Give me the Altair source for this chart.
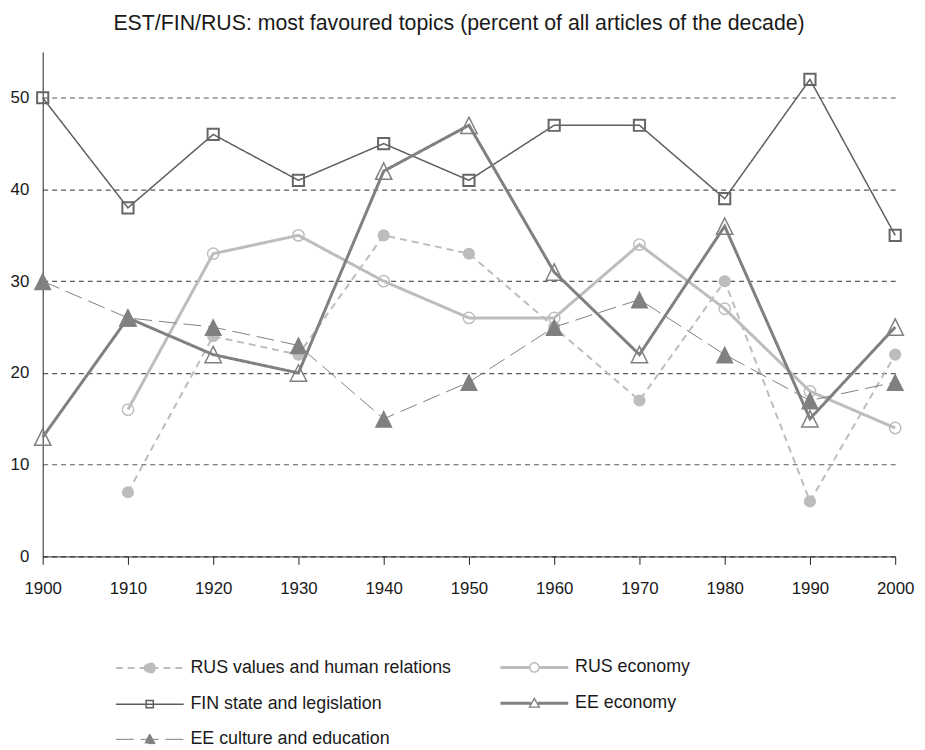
import altair as alt
import pandas as pd

years = [1900, 1910, 1920, 1930, 1940, 1950, 1960, 1970, 1980, 1990, 2000]
series_names = [
    "RUS values and human relations",
    "RUS economy",
    "FIN state and legislation",
    "EE economy",
    "EE culture and education",
]
rus_values = [None, 7, 24, 22, 35, 33, 25, 17, 30, 6, 22]
rus_economy = [None, 16, 33, 35, 30, 26, 26, 34, 27, 18, 14]
fin_state = [50, 38, 46, 41, 45, 41, 47, 47, 39, 52, 35]
ee_economy = [13, 26, 22, 20, 42, 47, 31, 22, 36, 15, 25]
ee_culture = [30, 26, 25, 23, 15, 19, 25, 28, 22, 17, 19]

all_values = [rus_values, rus_economy, fin_state, ee_economy, ee_culture]
rows = []
for name, vals in zip(series_names, all_values):
    for yr, v in zip(years, vals):
        if v is not None:
            rows.append({"year": yr, "value": v, "series": name})
df = pd.DataFrame(rows)

# styles
tri = "M0,-1L1,1L-1,1Z"
line_color = ["#bdbdbd", "#bdbdbd", "#5e5e5e", "#808080", "#808080"]
line_width = [2, 3, 1.5, 3, 1]
line_dash = [[7, 5], [1, 0], [1, 0], [1, 0], [18, 7]]
mk_shape = ["circle", "circle", "square", tri, tri]
mk_size = [150, 130, 128, 272, 324]
mk_filled = [True, False, False, False, True]
mk_color = ["#bdbdbd", "#bdbdbd", "#666666", "#808080", "#808080"]
mk_stroke = [0, 1.5, 2, 1.5, 0]

# legend symbols: line + marker as custom paths (unit = half symbol box = 18px)
legend_paths = [
    "M-1.9,0H1.9M0.28,0A0.28,0.28 0 1,1 -0.28,0A0.28,0.28 0 1,1 0.28,0Z",
    "M-1.9,-0.083H-0.29V0.083H-1.9Z"
    "M0.29,-0.083H1.9V0.083H0.29Z"
    "M0.3,0A0.3,0.3 0 1,1 -0.3,0A0.3,0.3 0 1,1 0.3,0Z"
    "M0.22,0A0.22,0.22 0 1,0 -0.22,0A0.22,0.22 0 1,0 0.22,0Z",
    "M-1.9,0H1.9M-0.2,-0.2H0.2V0.2H-0.2Z",
    "M-1.9,-0.083H-0.2V0.083H-1.9Z"
    "M0.2,-0.083H1.9V0.083H0.2Z"
    "M0,-0.34L0.34,0.26L-0.34,0.26Z"
    "M0,-0.18L-0.22,0.19L0.22,0.19Z",
    "M-1.9,0H1.9M0,-0.3L0.3,0.24L-0.3,0.24Z",
]
legend_fill = ["#bdbdbd", "#bdbdbd", "transparent", "#808080", "#808080"]
legend_stroke_w = [2, 0, 1.5, 0, 1]

x_enc = alt.X(
    "year:Q",
    scale=alt.Scale(domain=[1900, 2000], nice=False, zero=False),
    axis=alt.Axis(
        values=years, format="d", title=None, grid=False, tickSize=8,
        labelPadding=16, labelFontSize=17, labelColor="#1a1a1a", labelFlush=False,
        domainColor="#222222", tickColor="#222222", labelFont="Liberation Sans",
        zindex=1,
    ),
)
y_enc = alt.Y(
    "value:Q",
    scale=alt.Scale(domain=[0, 55], nice=False),
    axis=alt.Axis(
        values=[0, 10, 20, 30, 40, 50], title=None, ticks=False, tickSize=0,
        labelPadding=14, labelFontSize=17, labelColor="#1a1a1a",
        domainColor="#222222", grid=True, gridDash=[5, 4], gridColor="#5a5a5a",
        gridWidth=1.2, labelFont="Liberation Sans",
    ),
)

layers = []
for i, name in enumerate(series_names):
    base = alt.Chart(df).transform_filter(alt.datum.series == name)
    layers.append(
        base.mark_line(
            color=line_color[i], strokeWidth=line_width[i], strokeDash=line_dash[i]
        ).encode(x=x_enc, y=y_enc)
    )
    layers.append(
        base.mark_point(
            shape=mk_shape[i], size=mk_size[i], filled=mk_filled[i],
            color=mk_color[i], strokeWidth=mk_stroke[i], opacity=1,
        ).encode(x=x_enc, y=y_enc)
    )

leg = dict(
    title=None, orient="none", legendX=89, legendY=602, columns=2,
    direction="horizontal",
    columnPadding=48, rowPadding=8, labelOffset=22, symbolSize=1296,
    labelFontSize=18, labelFont="Liberation Sans", labelColor="#1a1a1a",
    padding=0, labelLimit=400,
)

legend_layer = (
    alt.Chart(df)
    .transform_filter("false")
    .mark_point(size=1296, opacity=1)
    .encode(
        shape=alt.Shape("series:N", scale=alt.Scale(domain=series_names, range=legend_paths), legend=alt.Legend(**leg)),
        fill=alt.Fill("series:N", scale=alt.Scale(domain=series_names, range=legend_fill), legend=alt.Legend(**leg)),
        stroke=alt.Stroke("series:N", scale=alt.Scale(domain=series_names, range=line_color), legend=alt.Legend(**leg)),
        strokeDash=alt.StrokeDash("series:N", scale=alt.Scale(domain=series_names, range=line_dash), legend=alt.Legend(**leg)),
        strokeWidth=alt.StrokeWidth("series:N", scale=alt.Scale(type="ordinal", domain=series_names, range=legend_stroke_w), legend=alt.Legend(**leg)),
    )
)

chart = (
    alt.layer(*layers, legend_layer)
    .properties(
        width=860,
        height=509,
        title=alt.TitleParams(
            "EST/FIN/RUS: most favoured topics (percent of all articles of the decade)",
            fontSize=21.5, font="Liberation Sans", fontWeight="normal", color="#1a1a1a",
            anchor="middle", offset=18, dx=-10,
        ),
        autosize=alt.AutoSizeParams(type="none"),
        padding={"left": 35, "top": 41, "right": 22, "bottom": 192},
    )
    .configure_view(stroke=None)
)

chart.save("out.html", embed_options={"renderer": "svg", "actions": False})
